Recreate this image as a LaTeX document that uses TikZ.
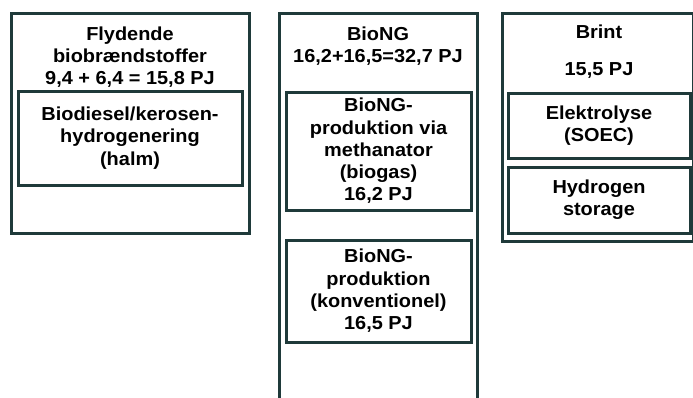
\documentclass[tikz,border=0pt]{standalone}
\usepackage{fontspec}
\setmainfont{Liberation Sans}[FakeStretch=1.06]
\usepackage{xcolor}
\usepackage{tikz}
\definecolor{boxline}{RGB}{31,58,58}

\begin{document}
\begin{tikzpicture}[x=1pt,y=-1pt,
  box/.style={draw=boxline,line width=3pt,inner sep=0pt},
  txt/.style={align=center,font=\fontsize{18.8}{22.3}\selectfont\bfseries},
  heading/.style={txt,anchor=north,inner sep=0pt}]
  % Canvas
  \useasboundingbox (0,0) rectangle (693,397);
  \clip (0,0) rectangle (693,397);

  % Outer boxes
  \node[box,minimum width=238pt,minimum height=220pt] (flyd) at (130,123) {};
  \node[box,minimum width=198pt,minimum height=420pt] (biong) at (378,223) {};
  \node[box,minimum width=191pt,minimum height=228pt] (brint) at (597.5,127) {};

  % Headings
  \node[heading] (flydtitle) at (130,26.5) {Flydende\\biobrændstoffer\\9,4 + 6,4 = 15,8 PJ};
  \node[heading] (biongtitle) at (378,26.5) {BioNG\\16,2+16,5=32,7 PJ};
  \node[heading] (brinttitle) at (599,24.5) {Brint\\[14.5pt]15,5 PJ};

  % Inner boxes
  \node[box,txt,minimum width=224pt,minimum height=94pt] (hydro) at (130,138)
    {Biodiesel/kerosen-\\hydrogenering\\(halm)};
  \node[box,txt,minimum width=185pt,minimum height=118pt] (methan) at (378.5,151)
    {BioNG-\\produktion via\\methanator\\(biogas)\\16,2 PJ};
  \node[box,txt,minimum width=185pt,minimum height=102pt] (konv) at (378.5,291)
    {BioNG-\\produktion\\(konventionel)\\16,5 PJ};
  \node[box,txt,minimum width=182pt,minimum height=65.5pt] (soec) at (599,125.75)
    {Elektrolyse\\(SOEC)};
  \node[box,txt,minimum width=182pt,minimum height=66pt] (storage) at (599,200)
    {Hydrogen\\storage};
\end{tikzpicture}
\end{document}
